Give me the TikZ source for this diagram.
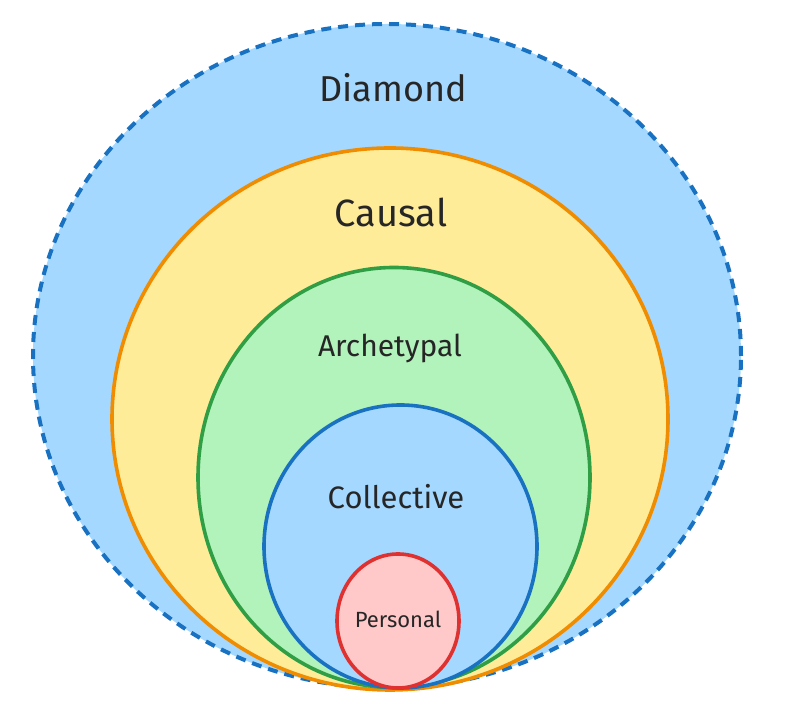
\documentclass[tikz,border=0pt]{standalone}
\usepackage{fontspec}
\setmainfont{Fira Sans}
\usetikzlibrary{positioning}
\definecolor{skyfill}{HTML}{A5D8FF}
\definecolor{skyline}{HTML}{1971C2}
\definecolor{sunfill}{HTML}{FFEC99}
\definecolor{sunline}{HTML}{F08C00}
\definecolor{leaffill}{HTML}{B2F2BB}
\definecolor{leafline}{HTML}{2F9E44}
\definecolor{rosefill}{HTML}{FFC9C9}
\definecolor{roseline}{HTML}{E03131}

\begin{document}
\begin{tikzpicture}[
  x=1pt, y=1pt,
  ring/.style={line width=3.6pt},
  lbl/.style={text=black!85, inner sep=0pt}
]
\useasboundingbox (0,0) rectangle (806,708);

% nested planes, outermost first
\draw[ring, skyline, fill=skyfill, line width=4pt, dash pattern=on 10pt off 7pt]
  (387,352) ellipse [x radius=354, y radius=332];
\draw[ring, sunline, fill=sunfill] (390,289) ellipse [x radius=278, y radius=271];
\draw[ring, leafline, fill=leaffill] (394,230.5) ellipse [x radius=196, y radius=210];
\draw[ring, skyline, fill=skyfill] (400.5,161.5) ellipse [x radius=136.5, y radius=141.5];
\draw[ring, roseline, fill=rosefill] (398,87) ellipse [x radius=61, y radius=67];

\node[lbl, font=\fontsize{36}{42}\selectfont] (diamond) at (393,620) {Diamond};
\node[lbl, font=\fontsize{38}{44}\selectfont] (causal) at (391,496) {Causal};
\node[lbl, font=\fontsize{30}{35}\selectfont] (archetypal) at (390,360) {Archetypal};
\node[lbl, font=\fontsize{31}{36}\selectfont] (collective) at (396,211) {Collective};
\node[lbl, font=\fontsize{22}{26}\selectfont] (personal) at (398,89) {Personal};
\end{tikzpicture}
\end{document}
